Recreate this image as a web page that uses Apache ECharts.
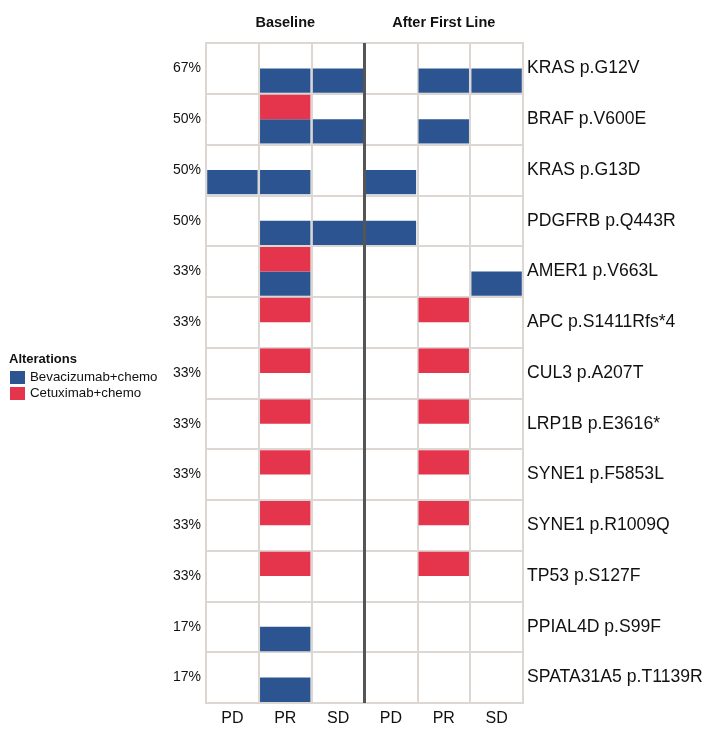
<!DOCTYPE html>
<html>
<head>
<meta charset="utf-8">
<script src="https://cdn.jsdelivr.net/npm/echarts@6/dist/echarts.min.js"></script>
<style>
html,body{margin:0;padding:0;background:#fff;}
#chart{width:708px;height:732px;}
</style>
</head>
<body>
<div id="chart"></div>
<script>
// Genes (rows, top to bottom)
const genes = ['KRAS p.G12V','BRAF p.V600E','KRAS p.G13D','PDGFRB p.Q443R','AMER1 p.V663L','APC p.S1411Rfs*4','CUL3 p.A207T','LRP1B p.E3616*','SYNE1 p.F5853L','SYNE1 p.R1009Q','TP53 p.S127F','PPIAL4D p.S99F','SPATA31A5 p.T1139R'];
const percents = ['67%','50%','50%','50%','33%','33%','33%','33%','33%','33%','33%','17%','17%'];
// Columns: Baseline PD/PR/SD, After First Line PD/PR/SD
const columns = ['PD','PR','SD','PD','PR','SD'];
const groups = ['Baseline','After First Line'];
const groupSize = 3;
// Presence per gene per column
const bevacizumab = [
  [0,1,1,0,1,1],
  [0,1,1,0,1,0],
  [1,1,0,1,0,0],
  [0,1,1,1,0,0],
  [0,1,0,0,0,1],
  [0,0,0,0,0,0],
  [0,0,0,0,0,0],
  [0,0,0,0,0,0],
  [0,0,0,0,0,0],
  [0,0,0,0,0,0],
  [0,0,0,0,0,0],
  [0,1,0,0,0,0],
  [0,1,0,0,0,0]
];
const cetuximab = [
  [0,0,0,0,0,0],
  [0,1,0,0,0,0],
  [0,0,0,0,0,0],
  [0,0,0,0,0,0],
  [0,1,0,0,0,0],
  [0,1,0,0,1,0],
  [0,1,0,0,1,0],
  [0,1,0,0,1,0],
  [0,1,0,0,1,0],
  [0,1,0,0,1,0],
  [0,1,0,0,1,0],
  [0,0,0,0,0,0],
  [0,0,0,0,0,0]
];
const seriesNames = ['Bevacizumab+chemo','Cetuximab+chemo'];
const colors = ['#2c5491','#e4354d'];

function toItems(mat){
  const out = [];
  mat.forEach((row, r) => row.forEach((v, c) => { if (v) out.push([c, r]); }));
  return out;
}

function makeRender(slot){
  return function(params, api){
    const c = api.coord([api.value(0), api.value(1)]);
    const s = api.size([1,1]);
    const w = s[0], h = s[1];
    const x0 = c[0] - w/2 + 1.2;
    const x1 = c[0] + w/2 - 1.2;
    const top = c[1] - h/2;
    // slot 0: lower half, slot 1: upper half
    const y0 = slot === 0 ? top + h/2 : top + 1;
    const y1 = slot === 0 ? top + h - 1 : top + h/2;
    return {
      type: 'rect',
      shape: {x: x0, y: y0, width: x1 - x0, height: y1 - y0},
      style: {fill: api.visual('color')}
    };
  };
}

const gridLeft = 206, gridRight = 185, gridTop = 43, gridBottom = 29;
const chart = echarts.init(document.getElementById('chart'), null, {renderer:'canvas'});
const textColor = '#111';
const lineCol = '#dcd7d2';

const option = {
  animation: false,
  backgroundColor: '#fff',
  textStyle: {fontFamily: 'Liberation Sans, Arial, sans-serif'},
  grid: {left: gridLeft, right: gridRight, top: gridTop, bottom: gridBottom, show: true, borderColor: lineCol, borderWidth: 2, backgroundColor: '#fff'},
  legend: {
    orient: 'vertical', left: 10, top: 371, padding: 0,
    data: seriesNames, icon: 'rect', itemWidth: 15, itemHeight: 13, itemGap: 3,
    textStyle: {fontSize: 13.3, color: textColor, fontFamily: 'Liberation Sans, Arial, sans-serif'},
    selectedMode: false
  },
  graphic: [
    {type: 'text', left: 9, top: 353, style: {text: 'Alterations', font: 'bold 13px Liberation Sans, Arial, sans-serif', fill: textColor}},
    {type: 'text', x: gridLeft + (708 - gridLeft - gridRight) / 4, y: 23, style: {text: groups[0], font: 'bold 14.5px Liberation Sans, Arial, sans-serif', fill: textColor, textAlign: 'center', textVerticalAlign: 'middle'}},
    {type: 'text', x: gridLeft + (708 - gridLeft - gridRight) * 3 / 4, y: 23, style: {text: groups[1], font: 'bold 14.5px Liberation Sans, Arial, sans-serif', fill: textColor, textAlign: 'center', textVerticalAlign: 'middle'}}
  ],
  xAxis: [
    {type: 'category', data: columns, boundaryGap: true, position: 'bottom',
     axisLine: {show: false}, axisTick: {show: false},
     axisLabel: {fontSize: 16, color: textColor, margin: 8},
     splitLine: {show: true, interval: 0, lineStyle: {color: lineCol, width: 2}}},
    {type: 'value', min: 0, max: columns.length, show: false}
  ],
  yAxis: [
    {type: 'category', data: percents, inverse: true, position: 'left',
     axisLine: {show: false}, axisTick: {show: false},
     axisLabel: {fontSize: 14, color: textColor, margin: 5, interval: 0},
     splitLine: {show: true, interval: 0, lineStyle: {color: lineCol, width: 2}}},
    {type: 'category', data: genes, inverse: true, position: 'right',
     axisLine: {show: false}, axisTick: {show: false},
     axisLabel: {fontSize: 17.6, color: textColor, margin: 4, interval: 0},
     splitLine: {show: false}},
    {type: 'value', min: 0, max: genes.length, inverse: true, show: false}
  ],
  series: [
    {name: seriesNames[0], type: 'custom', xAxisIndex: 0, yAxisIndex: 0, itemStyle: {color: colors[0]},
     renderItem: makeRender(0), data: toItems(bevacizumab), z: 3},
    {name: seriesNames[1], type: 'custom', xAxisIndex: 0, yAxisIndex: 0, itemStyle: {color: colors[1]},
     renderItem: makeRender(1), data: toItems(cetuximab), z: 3},
    {name: 'separator', type: 'line', xAxisIndex: 1, yAxisIndex: 2, symbol: 'none', silent: true,
     lineStyle: {color: '#555', width: 3}, data: [[groupSize, 0], [groupSize, genes.length]], z: 5}
  ]
};
chart.setOption(option);
</script>
</body>
</html>
